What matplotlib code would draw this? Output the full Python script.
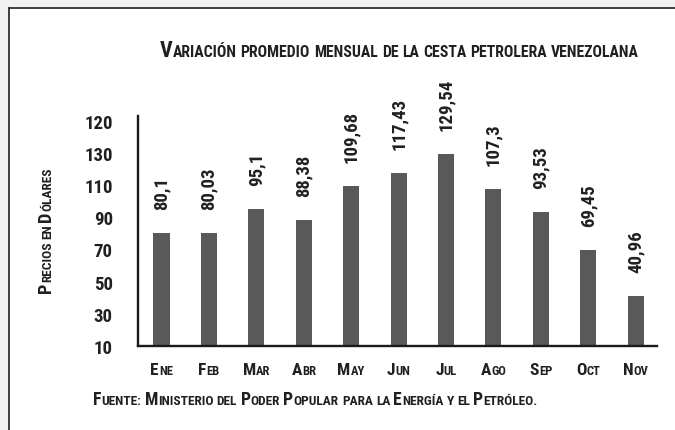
import matplotlib
matplotlib.use('Agg')
import matplotlib.pyplot as plt
from matplotlib import font_manager as fm
from matplotlib.transforms import IdentityTransform
from matplotlib.lines import Line2D
from matplotlib.patches import Rectangle

# ---------------- data ----------------
months = ["Ene", "Feb", "Mar", "Abr", "May", "Jun", "Jul", "Ago", "Sep", "Oct", "Nov"]
prices = [80.1, 80.03, 95.1, 88.38, 109.68, 117.43, 129.54, 107.3, 93.53, 69.45, 40.96]
ytick_values = [10, 30, 50, 70, 90, 110, 130, 150]
ytick_labels = ["10", "30", "50", "70", "90", "110", "130", "120"]
title = "Variación promedio mensual de la cesta petrolera venezolana"
ylabel = "Precios en Dólares"
source = "Fuente: Ministerio del Poder Popular para la Energía y el Petróleo."

W, H = 675, 431
BAR = '#58595b'
TXT = '#231f20'

# ---------------- font pick (condensed bold) ----------------
names = {f.name for f in fm.fontManager.ttflist}
fam, stretch = 'DejaVu Sans', 'normal'
for cand in ['Noto Sans ExtraCondensed', 'Roboto Condensed', 'Liberation Sans Narrow',
             'Noto Sans Condensed', 'DejaVu Sans Condensed', 'Open Sans Condensed']:
    if cand in names:
        fam = cand
        break
else:
    for f in fm.fontManager.ttflist:
        if f.stretch in ('condensed', 'semi-condensed', 'extra-condensed'):
            fam, stretch = f.name, f.stretch
            break
FONT = dict(fontfamily=fam, fontstretch=stretch, fontweight='bold', color=TXT)

fig = plt.figure(figsize=(W / 100, H / 100), dpi=100)
fig.patch.set_facecolor('white')
renderer = fig.canvas.get_renderer()

# frame with light shadow (left and top only)
fig.add_artist(Rectangle((0, 0), 8 / W, 1, transform=fig.transFigure, color='#f1f1f1', lw=0))
fig.add_artist(Rectangle((0, 1 - 8 / H), 1, 8 / H, transform=fig.transFigure, color='#f1f1f1', lw=0))
fig.add_artist(Line2D([9 / W, 9 / W], [0, 1 - 8.5 / H], transform=fig.transFigure, color='#2f2f2f', lw=1.3))
fig.add_artist(Line2D([8.5 / W, 1], [1 - 8.5 / H, 1 - 8.5 / H], transform=fig.transFigure, color='#2f2f2f', lw=1.3))

# ---------------- axes ----------------
ax = fig.add_axes([137.8 / W, 1 - 347 / H, (656.5 - 137.8) / W, (347 - 117) / H])
ax.set_facecolor('none')
x = list(range(len(months)))
ax.bar(x, prices, width=0.34, color=BAR, zorder=2)
ax.set_xlim(-0.5, 10.44)
ax.set_ylim(10, 152.9)
ax.set_yticks(ytick_values)
ax.set_yticklabels(ytick_labels)
for lab in ax.get_yticklabels():
    lab.set_fontfamily(fam); lab.set_fontstretch(stretch)
    lab.set_fontweight('bold'); lab.set_fontsize(13.5); lab.set_color(TXT)
ax.set_xticks(x)
ax.set_xticklabels([''] * len(x))
ax.tick_params(length=0, pad=18)
for s in ['top', 'right']:
    ax.spines[s].set_visible(False)
for s in ['left', 'bottom']:
    ax.spines[s].set_linewidth(1.7)
    ax.spines[s].set_color('#1a1a1a')
    ax.spines[s].set_zorder(3)

for xi, v in zip(x, prices):
    ax.annotate(f"{v:g}".replace('.', ','), (xi, v), xytext=(0, 17.3),
                textcoords='offset points', rotation=90, ha='center', va='bottom',
                fontsize=13.5, **FONT)


# ---------------- small caps helper ----------------
def segments(s):
    segs = []
    for ch in s:
        kind = 'space' if ch == ' ' else ('big' if ch.isupper() else 'small')
        if segs and segs[-1][0] == kind:
            segs[-1][1] += ch
        else:
            segs.append([kind, ch])
    return segs


def measure(txt, size):
    t = fig.text(0, 0, txt, fontsize=size, transform=IdentityTransform(), **FONT)
    w = t.get_window_extent(renderer).width
    t.remove()
    return w


def smallcaps(s, xp, yp, big, small, ha='left', rotation=0, target=None):
    items = []
    for kind, txt in segments(s):
        if kind == 'space':
            w = (measure('x x', small) - measure('xx', small)) * len(txt)
            items.append([None, small, w])
        else:
            sz = big if kind == 'big' else small
            items.append([txt.upper(), sz, measure(txt.upper(), sz)])
    total = sum(it[2] for it in items)
    k = 1.0
    if target:
        k = target / total
        total = target
    if ha == 'center':
        start = -total / 2
    elif ha == 'right':
        start = -total
    else:
        start = 0
    pos = start
    for it in items:
        if it[0] is not None:
            if rotation == 90:
                px, py = xp, yp + pos
            else:
                px, py = xp + pos, yp
            fig.text(px, py, it[0], fontsize=it[1] * k, transform=IdentityTransform(),
                     ha='left', va='baseline', rotation=rotation, rotation_mode='anchor', **FONT)
        pos += it[2] * k


# title
smallcaps(title, 160, H - 57, 12.5, 9, ha='left', target=480)
# y label
smallcaps(ylabel, 51, H - 230.5, 11, 8, ha='center', rotation=90, target=125)
# source
smallcaps(source, 93, H - 405, 12.5, 9.5, ha='left', target=445)
# x tick labels
for xi, m in zip(x, months):
    dx, _ = ax.transData.transform((xi, 10))
    smallcaps(m, dx, H - 375.5, 12.5, 9, ha='center')

fig.savefig('out.png', dpi=100)
